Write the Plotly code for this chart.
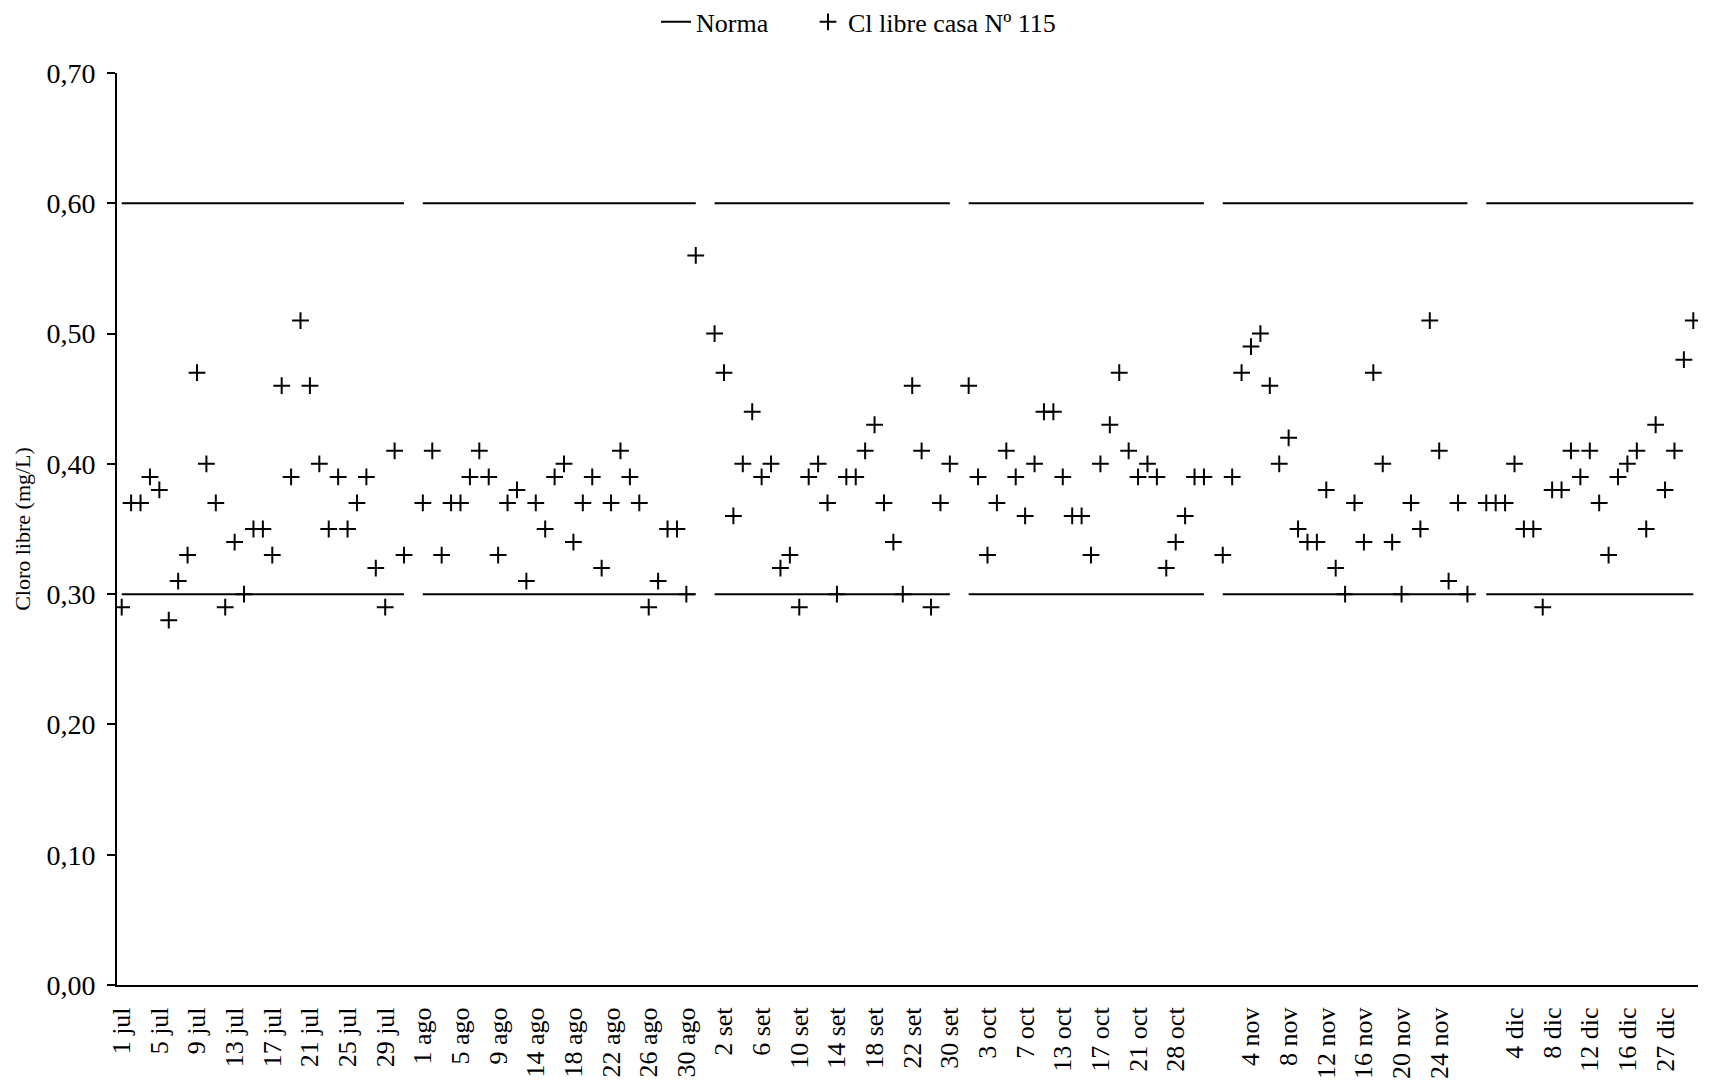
import plotly.graph_objects as go

# ---- data ----
meses = ["jul", "ago", "set", "oct", "nov", "dic"]

dias_jul = list(range(1, 32))
dias_ago = list(range(1, 10)) + list(range(11, 32))
dias_set = list(range(1, 23)) + [24, 26, 28, 30]
dias_oct = list(range(1, 8)) + [9, 10, 12] + list(range(13, 22)) + [23, 25, 27, 28, 29, 30, 31]
dias_nov = list(range(1, 25)) + [26, 28, 30]
dias_dic = list(range(1, 17)) + [19, 22, 26, 27, 28, 29, 30]

cl_jul = [0.29, 0.37, 0.37, 0.39, 0.38, 0.28, 0.31, 0.33, 0.47, 0.40, 0.37, 0.29, 0.34, 0.30, 0.35, 0.35,
          0.33, 0.46, 0.39, 0.51, 0.46, 0.40, 0.35, 0.39, 0.35, 0.37, 0.39, 0.32, 0.29, 0.41, 0.33]
cl_ago = [0.37, 0.41, 0.33, 0.37, 0.37, 0.39, 0.41, 0.39, 0.33, 0.37, 0.38, 0.31, 0.37, 0.35, 0.39, 0.40,
          0.34, 0.37, 0.39, 0.32, 0.37, 0.41, 0.39, 0.37, 0.29, 0.31, 0.35, 0.35, 0.30, 0.56]
cl_set = [0.50, 0.47, 0.36, 0.40, 0.44, 0.39, 0.40, 0.32, 0.33, 0.29, 0.39, 0.40, 0.37, 0.30, 0.39, 0.39,
          0.41, 0.43, 0.37, 0.34, 0.30, 0.46, 0.41, 0.29, 0.37, 0.40]
cl_oct = [0.46, 0.39, 0.33, 0.37, 0.41, 0.39, 0.36, 0.40, 0.44, 0.44, 0.39, 0.36, 0.36, 0.33, 0.40, 0.43,
          0.47, 0.41, 0.39, 0.40, 0.39, 0.32, 0.34, 0.36, 0.39, 0.39]
cl_nov = [0.33, 0.39, 0.47, 0.49, 0.50, 0.46, 0.40, 0.42, 0.35, 0.34, 0.34, 0.38, 0.32, 0.30, 0.37, 0.34,
          0.47, 0.40, 0.34, 0.30, 0.37, 0.35, 0.51, 0.41, 0.31, 0.37, 0.30]
cl_dic = [0.37, 0.37, 0.37, 0.40, 0.35, 0.35, 0.29, 0.38, 0.38, 0.41, 0.39, 0.41, 0.37, 0.33, 0.39, 0.40,
          0.41, 0.35, 0.43, 0.38, 0.41, 0.48, 0.51]

norma_min = 0.30
norma_max = 0.60

y_ticks = [0.0, 0.1, 0.2, 0.3, 0.4, 0.5, 0.6, 0.7]

# ---- build category sequence (blank category between months) ----
dias = [dias_jul, dias_ago, dias_set, dias_oct, dias_nov, dias_dic]
valores = [cl_jul, cl_ago, cl_set, cl_oct, cl_nov, cl_dic]

fechas, cloro, n_min, n_max = [], [], [], []
for k, (mes, d, v) in enumerate(zip(meses, dias, valores)):
    if k > 0:
        fechas.append("")
        cloro.append(None)
        n_min.append(None)
        n_max.append(None)
    for dd, vv in zip(d, v):
        fechas.append(f"{dd} {mes}")
        cloro.append(vv)
        n_min.append(norma_min)
        n_max.append(norma_max)

x = list(range(len(fechas)))
tick_idx = x[::4]
tick_txt = [fechas[i] for i in tick_idx]

FONT = "Liberation Serif, Times New Roman, serif"
FS = 26

fig = go.Figure()
fig.add_trace(go.Scatter(x=x, y=n_max, mode="lines", name="Norma",
                         line=dict(color="black", width=2), connectgaps=False,
                         legend="legend", legendgroup="norma", showlegend=True))
fig.add_trace(go.Scatter(x=x, y=n_min, mode="lines", name="Norma",
                         line=dict(color="black", width=2), connectgaps=False,
                         legend="legend", legendgroup="norma", showlegend=False))
fig.add_trace(go.Scatter(x=x, y=cloro, mode="markers", name="Cl libre casa Nº 115",
                         legend="legend2",
                         marker=dict(symbol="cross-thin", size=12, color="black",
                                     line=dict(color="black", width=2))))

W, H = 1704, 1072  # page body adds an 8 px offset

leg_common = dict(orientation="h", xref="container", yref="container", y=0.987,
                  xanchor="left", yanchor="middle", itemwidth=30,
                  font=dict(family=FONT, size=FS, color="black"), bgcolor="rgba(0,0,0,0)")

fig.update_layout(
    width=W, height=H,
    paper_bgcolor="white", plot_bgcolor="white",
    margin=dict(l=109, r=14, t=65, b=95, autoexpand=False),
    separators=", ",
    font=dict(family=FONT, size=FS, color="black"),
    legend=dict(x=648 / W, **leg_common),
    legend2=dict(x=800 / W, **leg_common),
    showlegend=True,
)
fig.update_xaxes(range=[-0.5, len(fechas) - 0.5], tickmode="array", tickvals=tick_idx,
                 ticktext=tick_txt, tickangle=-90, showgrid=False, zeroline=False,
                 showline=True, linecolor="black", linewidth=2, ticks="", automargin=False,
                 ticklabelstandoff=10,
                 tickfont=dict(family=FONT, size=FS, color="black"))
fig.update_yaxes(range=[0, 0.70], tickmode="array", tickvals=y_ticks, tickformat=".2f",
                 showgrid=False, zeroline=False, showline=True, linecolor="black", linewidth=2,
                 ticks="outside", ticklen=8, tickwidth=2, tickcolor="black", automargin=False,
                 ticklabelstandoff=6,
                 title=dict(text="Cloro libre (mg/L)", font=dict(family=FONT, size=22, color="black"),
                            standoff=10),
                 tickfont=dict(family=FONT, size=28, color="black"))

fig.write_html("out.html")
